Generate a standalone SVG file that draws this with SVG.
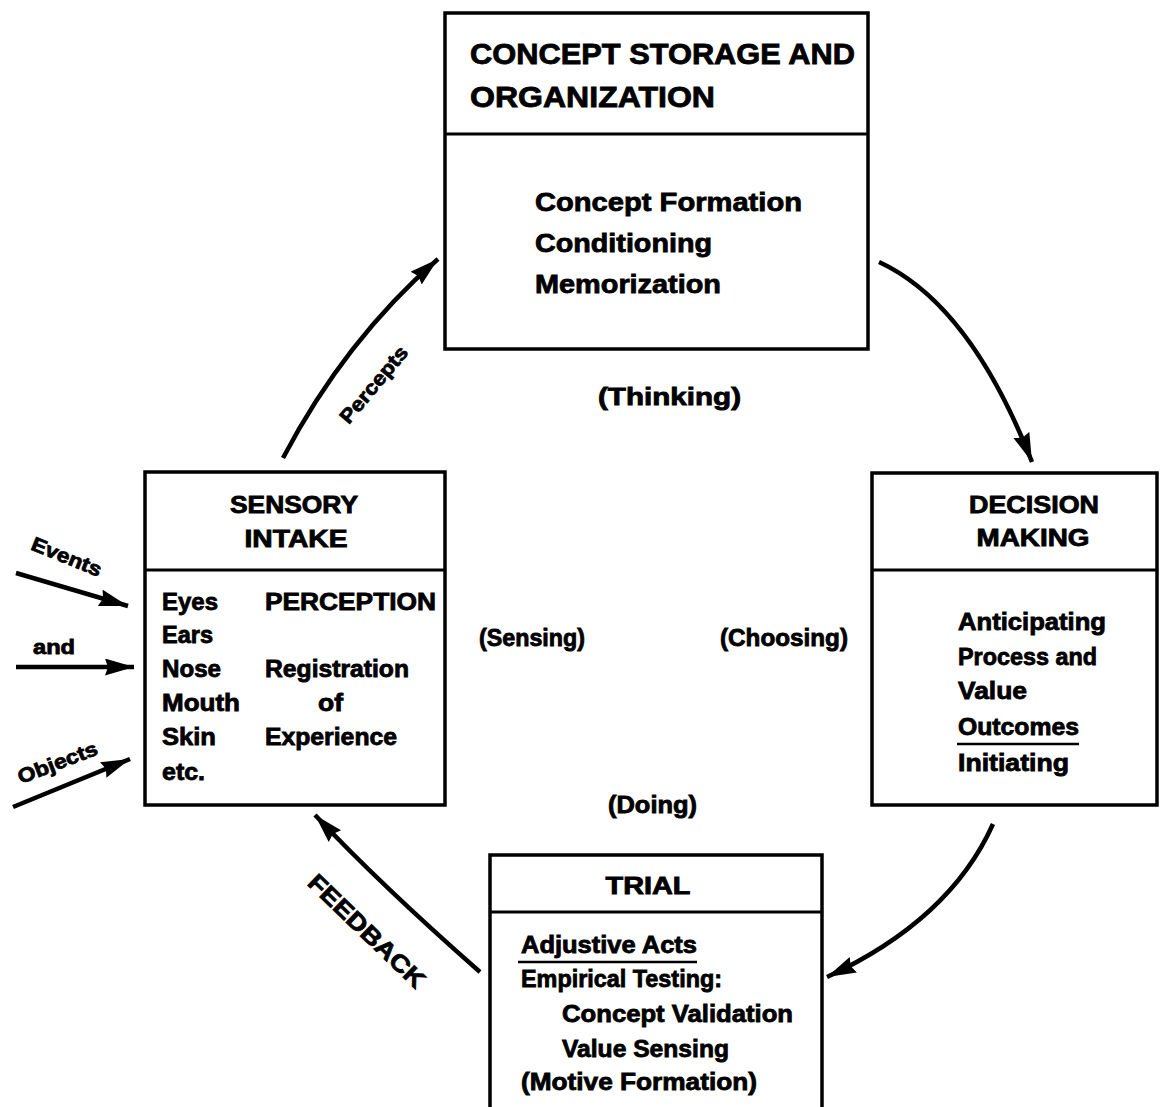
<svg xmlns="http://www.w3.org/2000/svg" width="1160" height="1107" viewBox="0 0 1160 1107">
<style>
  .box { fill: #fff; stroke: #000; stroke-width: 3.5; }
  .div { stroke: #000; stroke-width: 3; }
  .t { font-family: "Liberation Sans", Arial, sans-serif; font-weight: 700; fill: #000; stroke: #000; stroke-width: 0.8; }
  .title { font-size: 29px; }
  .h { font-size: 23px; }
  .b { font-size: 23.5px; }
  .lbl { font-size: 20px; }
  .conn { fill: none; stroke: #000; stroke-width: 4.5; }
  .ul { stroke: #000; stroke-width: 2.5; }
</style>
<defs>
  <marker id="ah" markerUnits="userSpaceOnUse" markerWidth="32" markerHeight="18" refX="29" refY="8.5" orient="auto">
    <path d="M0,0 L29,8.5 L0,17 L3,8.5 z" fill="#000"/>
  </marker>
</defs>
<rect width="1160" height="1107" fill="#fff"/>

<g id="connectors">
  <path class="conn" d="M283,458 Q345,340 438,259" marker-end="url(#ah)"/>
  <path class="conn" d="M879,262 Q970,304 1032,462" marker-end="url(#ah)"/>
  <path class="conn" d="M993,824 Q950,920 827,977" marker-end="url(#ah)"/>
  <path class="conn" d="M480,972 Q382,886 315,815" marker-end="url(#ah)"/>
  <path class="conn" d="M16,573 L128,606" marker-end="url(#ah)"/>
  <path class="conn" d="M16,667 L134,667" marker-end="url(#ah)"/>
  <path class="conn" d="M13,807 L130,759" marker-end="url(#ah)"/>
  <text class="t lbl" transform="translate(379,389) rotate(-50)" text-anchor="middle" textLength="94" lengthAdjust="spacingAndGlyphs">Percepts</text>
  <text class="t" style="font-size:24px" transform="translate(361,937) rotate(44)" text-anchor="middle" textLength="152" lengthAdjust="spacingAndGlyphs">FEEDBACK</text>
  <text class="t lbl" transform="translate(64,563) rotate(22)" text-anchor="middle" textLength="74" lengthAdjust="spacingAndGlyphs">Events</text>
  <text class="t lbl" x="33" y="654" textLength="42" lengthAdjust="spacingAndGlyphs">and</text>
  <text class="t lbl" transform="translate(60,769) rotate(-21)" text-anchor="middle" textLength="84" lengthAdjust="spacingAndGlyphs">Objects</text>
</g>

<g id="concept-storage">
  <rect class="box" x="445" y="13" width="423" height="336"/>
  <line class="div" x1="445" y1="134" x2="868" y2="134"/>
  <text class="t title" x="470" y="64" textLength="385" lengthAdjust="spacingAndGlyphs">CONCEPT STORAGE AND</text>
  <text class="t title" x="470" y="107" textLength="245" lengthAdjust="spacingAndGlyphs">ORGANIZATION</text>
  <text class="t b" style="font-size:26px" x="535" y="211" textLength="267" lengthAdjust="spacingAndGlyphs">Concept Formation</text>
  <text class="t b" style="font-size:26px" x="535" y="252" textLength="177" lengthAdjust="spacingAndGlyphs">Conditioning</text>
  <text class="t b" style="font-size:26px" x="535" y="293" textLength="186" lengthAdjust="spacingAndGlyphs">Memorization</text>
</g>

<g id="sensory-intake">
  <rect class="box" x="145" y="472" width="300" height="333"/>
  <line class="div" x1="145" y1="570" x2="445" y2="570"/>
  <text class="t h" x="294" y="513" text-anchor="middle" textLength="128" lengthAdjust="spacingAndGlyphs">SENSORY</text>
  <text class="t h" x="296" y="547" text-anchor="middle" textLength="103" lengthAdjust="spacingAndGlyphs">INTAKE</text>
  <text class="t b" x="162" y="610" textLength="56" lengthAdjust="spacingAndGlyphs">Eyes</text>
  <text class="t b" x="162" y="643" textLength="51" lengthAdjust="spacingAndGlyphs">Ears</text>
  <text class="t b" x="162" y="677" textLength="59" lengthAdjust="spacingAndGlyphs">Nose</text>
  <text class="t b" x="162" y="711" textLength="78" lengthAdjust="spacingAndGlyphs">Mouth</text>
  <text class="t b" x="162" y="745" textLength="54" lengthAdjust="spacingAndGlyphs">Skin</text>
  <text class="t b" x="162" y="780" textLength="43" lengthAdjust="spacingAndGlyphs">etc.</text>
  <text class="t b" x="265" y="610" textLength="171" lengthAdjust="spacingAndGlyphs">PERCEPTION</text>
  <text class="t b" x="265" y="677" textLength="144" lengthAdjust="spacingAndGlyphs">Registration</text>
  <text class="t b" x="318" y="711" textLength="25" lengthAdjust="spacingAndGlyphs">of</text>
  <text class="t b" x="265" y="745" textLength="132" lengthAdjust="spacingAndGlyphs">Experience</text>
</g>

<g id="decision-making">
  <rect class="box" x="872" y="473" width="285" height="332"/>
  <line class="div" x1="872" y1="570" x2="1157" y2="570"/>
  <text class="t h" x="1034" y="513" text-anchor="middle" textLength="130" lengthAdjust="spacingAndGlyphs">DECISION</text>
  <text class="t h" x="1033" y="546" text-anchor="middle" textLength="113" lengthAdjust="spacingAndGlyphs">MAKING</text>
  <text class="t b" x="958" y="630" textLength="148" lengthAdjust="spacingAndGlyphs">Anticipating</text>
  <text class="t b" x="958" y="665" textLength="139" lengthAdjust="spacingAndGlyphs">Process and</text>
  <text class="t b" x="958" y="699" textLength="69" lengthAdjust="spacingAndGlyphs">Value</text>
  <text class="t b" x="958" y="735" textLength="121" lengthAdjust="spacingAndGlyphs">Outcomes</text>
  <line class="ul" x1="957" y1="744" x2="1079" y2="744"/>
  <text class="t b" x="958" y="771" textLength="111" lengthAdjust="spacingAndGlyphs">Initiating</text>
</g>

<g id="trial">
  <rect class="box" x="490" y="855" width="332" height="270"/>
  <line class="div" x1="490" y1="912" x2="822" y2="912"/>
  <text class="t h" x="648" y="894" text-anchor="middle" textLength="85" lengthAdjust="spacingAndGlyphs">TRIAL</text>
  <text class="t b" x="521" y="953" textLength="176" lengthAdjust="spacingAndGlyphs">Adjustive Acts</text>
  <line class="ul" x1="518" y1="962" x2="697" y2="962"/>
  <text class="t b" x="521" y="987" textLength="201" lengthAdjust="spacingAndGlyphs">Empirical Testing:</text>
  <text class="t b" x="562" y="1022" textLength="231" lengthAdjust="spacingAndGlyphs">Concept Validation</text>
  <text class="t b" x="562" y="1057" textLength="167" lengthAdjust="spacingAndGlyphs">Value Sensing</text>
  <text class="t b" x="521" y="1090" textLength="236" lengthAdjust="spacingAndGlyphs">(Motive Formation)</text>
</g>

<g id="phase-labels">
  <text class="t b" x="598" y="405" textLength="143" lengthAdjust="spacingAndGlyphs">(Thinking)</text>
  <text class="t b" x="479" y="646" textLength="106" lengthAdjust="spacingAndGlyphs">(Sensing)</text>
  <text class="t b" x="720" y="646" textLength="128" lengthAdjust="spacingAndGlyphs">(Choosing)</text>
  <text class="t b" x="608" y="813" textLength="89" lengthAdjust="spacingAndGlyphs">(Doing)</text>
</g>
</svg>
